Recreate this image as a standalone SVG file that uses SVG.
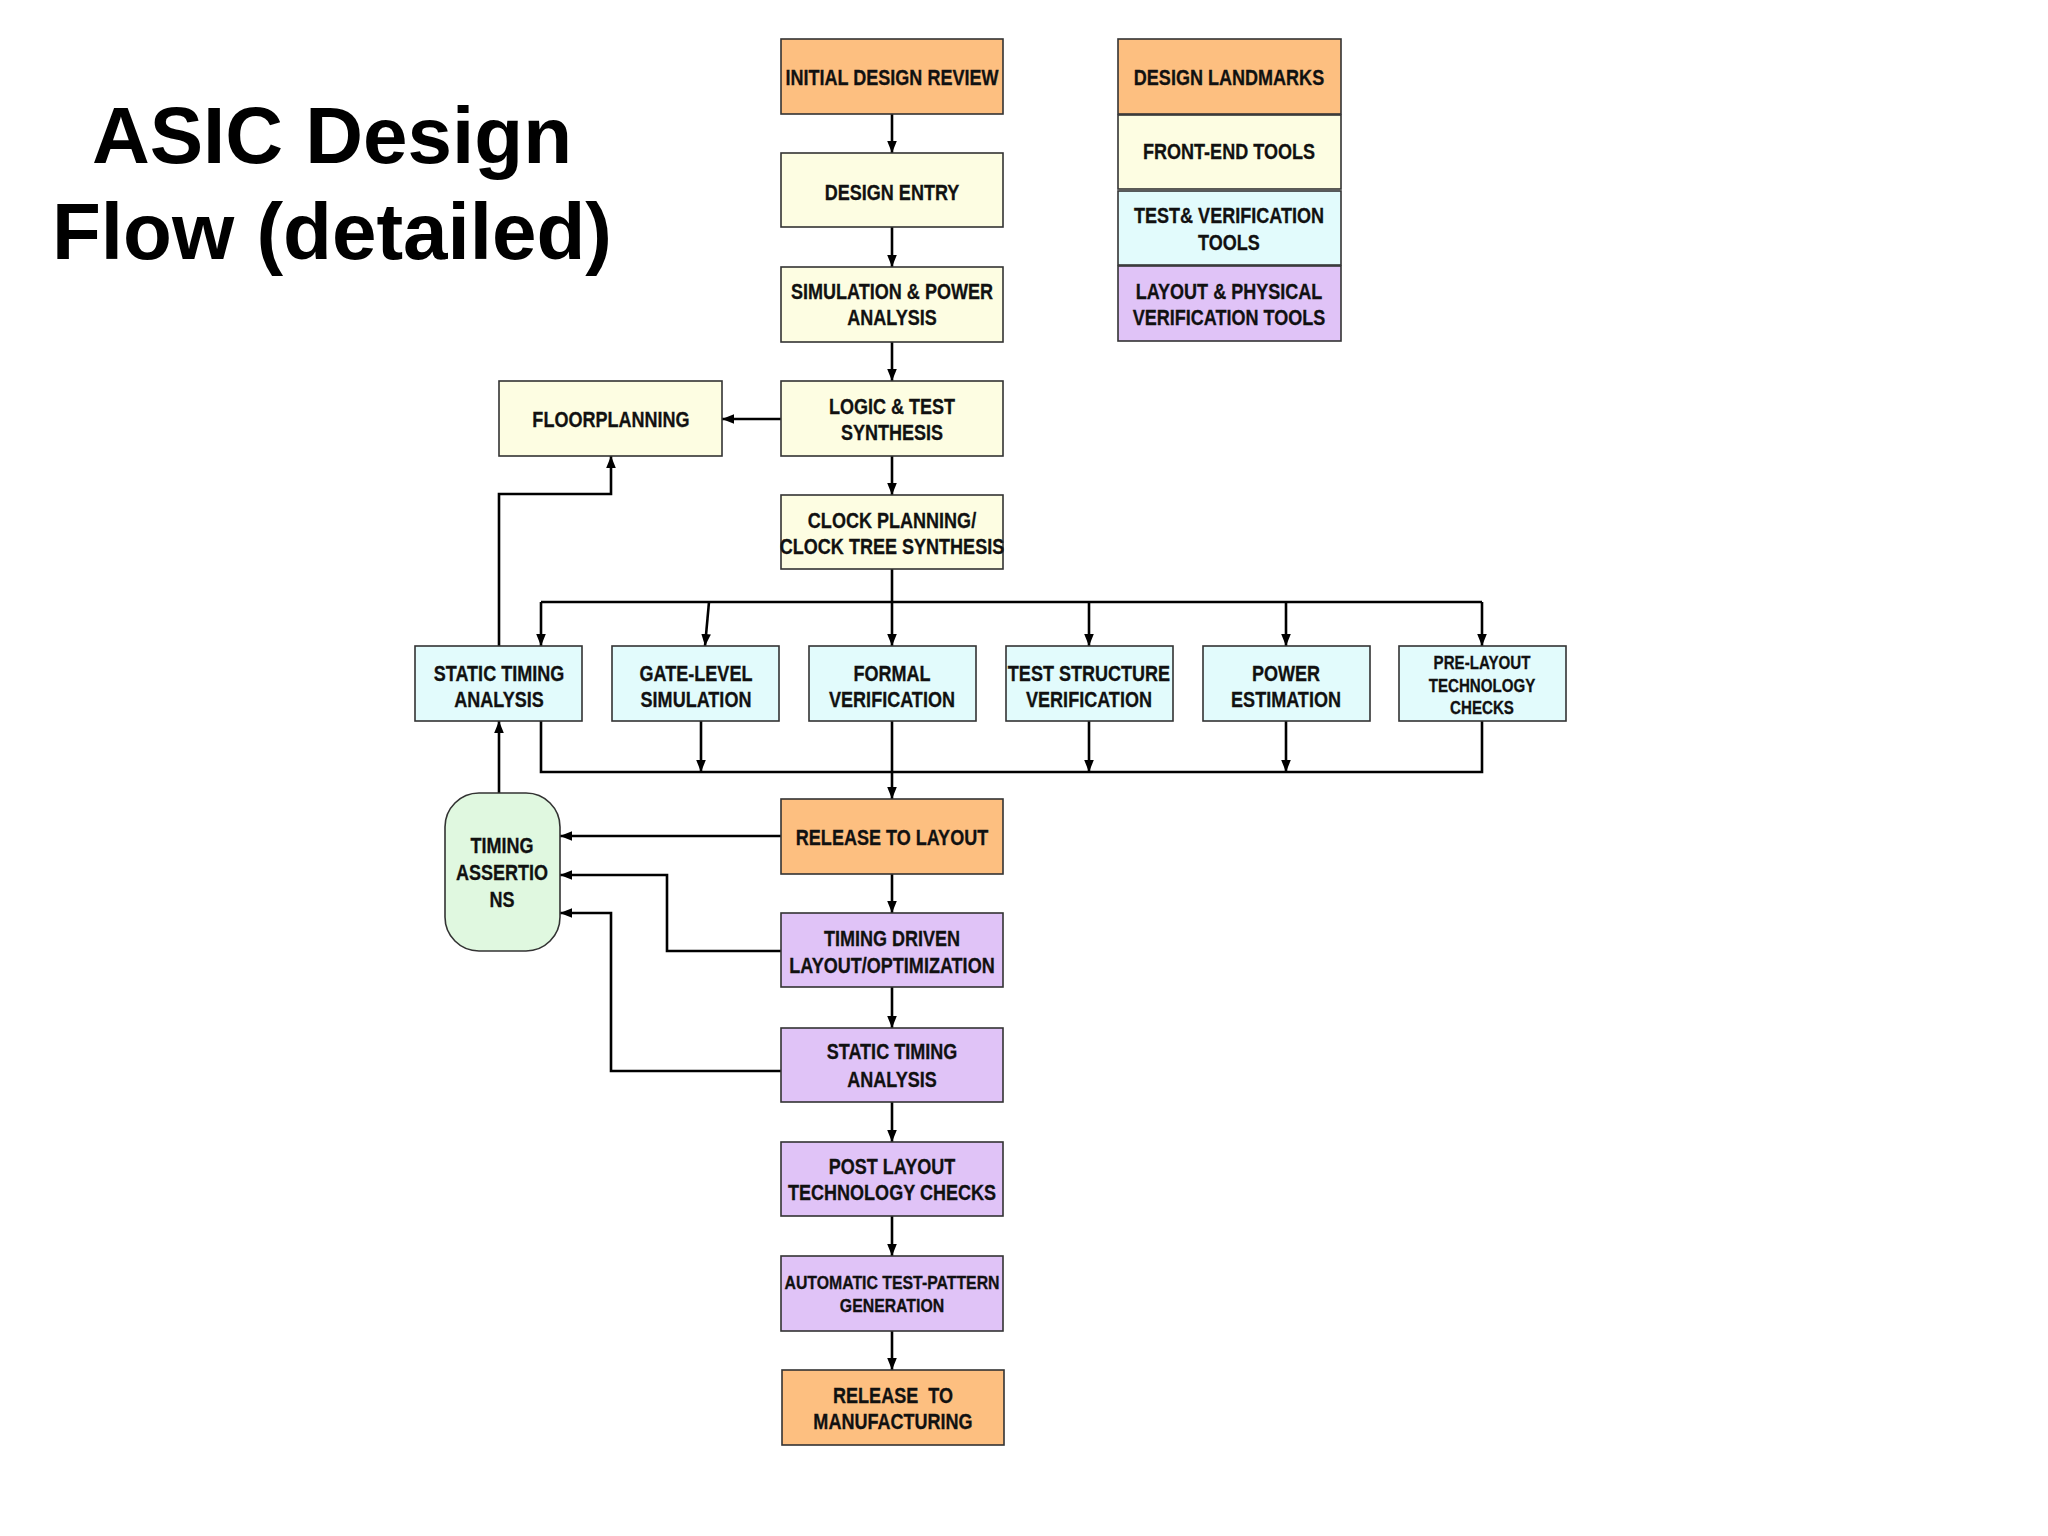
<svg xmlns="http://www.w3.org/2000/svg" width="2048" height="1536" viewBox="0 0 2048 1536">
<style>
.box{stroke:#333;stroke-width:1.6}
.or{fill:#FDBF80}
.ye{fill:#FDFDE2}
.cy{fill:#E2FBFC}
.pu{fill:#E0C3F7}
.gr{fill:#E0F8E0}
.t{font-family:"Liberation Sans",Arial,sans-serif;font-weight:bold;font-size:22px;fill:#111;text-anchor:middle;stroke:#111;stroke-width:0.3}
.s{font-size:18px}
.title{font-family:"Liberation Sans",Arial,sans-serif;font-weight:bold;font-size:80px;fill:#000;text-anchor:middle}
.c{fill:none;stroke:#000;stroke-width:2.6}
.a{marker-end:url(#ah)}
</style>
<defs>
<marker id="ah" viewBox="0 0 10 10" refX="10" refY="5" markerWidth="12" markerHeight="12" markerUnits="userSpaceOnUse" orient="auto">
<path d="M0,1 L10,5 L0,9 z" fill="#000"/>
</marker>
</defs>
<rect width="2048" height="1536" fill="#fff"/>
<g id="title">
<text class="title" x="332" y="163">ASIC Design</text>
<text class="title" x="332" y="259">Flow (detailed)</text>
</g>
<g id="connectors">
<path class="c a" d="M892,114 V153"/>
<path class="c a" d="M892,227 V267"/>
<path class="c a" d="M892,342 V381"/>
<path class="c a" d="M892,456 V495"/>
<path class="c a" d="M781,419 H722"/>
<path class="c a" d="M499,646 V494 H611 V456"/>
<path class="c a" d="M892,569 V646"/>
<path class="c" d="M541,602 H1482"/>
<path class="c a" d="M541,602 V646"/>
<path class="c a" d="M709,602 L705,646"/>
<path class="c a" d="M1089,602 V646"/>
<path class="c a" d="M1286,602 V646"/>
<path class="c a" d="M1482,602 V646"/>
<path class="c" d="M541,721 V772 H1482 V721"/>
<path class="c a" d="M701,721 V772"/>
<path class="c a" d="M1089,721 V772"/>
<path class="c a" d="M1286,721 V772"/>
<path class="c a" d="M892,721 V799"/>
<path class="c a" d="M499,793 V721"/>
<path class="c a" d="M781,836 H560"/>
<path class="c a" d="M781,951 H667 V875 H560"/>
<path class="c a" d="M781,1071 H611 V913 H560"/>
<path class="c a" d="M892,874 V913"/>
<path class="c a" d="M892,987 V1028"/>
<path class="c a" d="M892,1102 V1142"/>
<path class="c a" d="M892,1216 V1256"/>
<path class="c a" d="M892,1331 V1370"/>
</g>
<g id="initial-design-review"><rect class="box or" x="781" y="39" width="222" height="75"/><text class="t" transform="translate(892,85) scale(0.82,1)">INITIAL DESIGN REVIEW</text></g>
<g id="design-entry"><rect class="box ye" x="781" y="153" width="222" height="74"/><text class="t" transform="translate(892,200) scale(0.82,1)">DESIGN ENTRY</text></g>
<g id="simulation-power"><rect class="box ye" x="781" y="267" width="222" height="75"/><text class="t" transform="translate(892,299) scale(0.82,1)">SIMULATION &amp; POWER</text><text class="t" transform="translate(892,325) scale(0.82,1)">ANALYSIS</text></g>
<g id="logic-test-synthesis"><rect class="box ye" x="781" y="381" width="222" height="75"/><text class="t" transform="translate(892,414) scale(0.82,1)">LOGIC &amp; TEST</text><text class="t" transform="translate(892,440) scale(0.82,1)">SYNTHESIS</text></g>
<g id="floorplanning"><rect class="box ye" x="499" y="381" width="223" height="75"/><text class="t" transform="translate(611,427) scale(0.82,1)">FLOORPLANNING</text></g>
<g id="clock-planning"><rect class="box ye" x="781" y="495" width="222" height="74"/><text class="t" transform="translate(892,528) scale(0.82,1)">CLOCK PLANNING/</text><text class="t" transform="translate(892,554) scale(0.82,1)">CLOCK TREE SYNTHESIS</text></g>
<g id="static-timing-analysis-1"><rect class="box cy" x="415" y="646" width="167" height="75"/><text class="t" transform="translate(499,681) scale(0.82,1)">STATIC TIMING</text><text class="t" transform="translate(499,707) scale(0.82,1)">ANALYSIS</text></g>
<g id="gate-level-simulation"><rect class="box cy" x="612" y="646" width="167" height="75"/><text class="t" transform="translate(696,681) scale(0.82,1)">GATE-LEVEL</text><text class="t" transform="translate(696,707) scale(0.82,1)">SIMULATION</text></g>
<g id="formal-verification"><rect class="box cy" x="809" y="646" width="167" height="75"/><text class="t" transform="translate(892,681) scale(0.82,1)">FORMAL</text><text class="t" transform="translate(892,707) scale(0.82,1)">VERIFICATION</text></g>
<g id="test-structure-verification"><rect class="box cy" x="1006" y="646" width="167" height="75"/><text class="t" transform="translate(1089,681) scale(0.82,1)">TEST STRUCTURE</text><text class="t" transform="translate(1089,707) scale(0.82,1)">VERIFICATION</text></g>
<g id="power-estimation"><rect class="box cy" x="1203" y="646" width="167" height="75"/><text class="t" transform="translate(1286,681) scale(0.82,1)">POWER</text><text class="t" transform="translate(1286,707) scale(0.82,1)">ESTIMATION</text></g>
<g id="pre-layout-checks"><rect class="box cy" x="1399" y="646" width="167" height="75"/><text class="t s" transform="translate(1482,669) scale(0.84,1)">PRE-LAYOUT</text><text class="t s" transform="translate(1482,692) scale(0.84,1)">TECHNOLOGY</text><text class="t s" transform="translate(1482,714) scale(0.84,1)">CHECKS</text></g>
<g id="timing-assertions"><rect class="box gr" x="445" y="793" width="115" height="158" rx="34" ry="34"/><text class="t" transform="translate(502,853) scale(0.82,1)">TIMING</text><text class="t" transform="translate(502,880) scale(0.82,1)">ASSERTIO</text><text class="t" transform="translate(502,907) scale(0.82,1)">NS</text></g>
<g id="release-to-layout"><rect class="box or" x="781" y="799" width="222" height="75"/><text class="t" transform="translate(892,845) scale(0.82,1)">RELEASE TO LAYOUT</text></g>
<g id="timing-driven-layout"><rect class="box pu" x="781" y="913" width="222" height="74"/><text class="t" transform="translate(892,946) scale(0.82,1)">TIMING DRIVEN</text><text class="t" transform="translate(892,973) scale(0.82,1)">LAYOUT/OPTIMIZATION</text></g>
<g id="static-timing-analysis-2"><rect class="box pu" x="781" y="1028" width="222" height="74"/><text class="t" transform="translate(892,1059) scale(0.82,1)">STATIC TIMING</text><text class="t" transform="translate(892,1087) scale(0.82,1)">ANALYSIS</text></g>
<g id="post-layout-checks"><rect class="box pu" x="781" y="1142" width="222" height="74"/><text class="t" transform="translate(892,1174) scale(0.82,1)">POST LAYOUT</text><text class="t" transform="translate(892,1200) scale(0.82,1)">TECHNOLOGY CHECKS</text></g>
<g id="atpg"><rect class="box pu" x="781" y="1256" width="222" height="75"/><text class="t s" transform="translate(892,1289) scale(0.88,1)">AUTOMATIC TEST-PATTERN</text><text class="t s" transform="translate(892,1312) scale(0.88,1)">GENERATION</text></g>
<g id="release-to-manufacturing"><rect class="box or" x="782" y="1370" width="222" height="75"/><text class="t" transform="translate(893,1403) scale(0.82,1)" xml:space="preserve">RELEASE  TO</text><text class="t" transform="translate(893,1429) scale(0.82,1)">MANUFACTURING</text></g>
<g id="legend-design-landmarks"><rect class="box or" x="1118" y="39" width="223" height="75"/><text class="t" transform="translate(1229,85) scale(0.82,1)">DESIGN LANDMARKS</text></g>
<g id="legend-front-end"><rect class="box ye" x="1118" y="115" width="223" height="74"/><text class="t" transform="translate(1229,159) scale(0.82,1)">FRONT-END TOOLS</text></g>
<g id="legend-test-verification"><rect class="box cy" x="1118" y="191" width="223" height="74"/><text class="t" transform="translate(1229,223) scale(0.82,1)">TEST&amp; VERIFICATION</text><text class="t" transform="translate(1229,250) scale(0.82,1)">TOOLS</text></g>
<g id="legend-layout"><rect class="box pu" x="1118" y="266" width="223" height="75"/><text class="t" transform="translate(1229,299) scale(0.82,1)">LAYOUT &amp; PHYSICAL</text><text class="t" transform="translate(1229,325) scale(0.82,1)">VERIFICATION TOOLS</text></g>
</svg>
